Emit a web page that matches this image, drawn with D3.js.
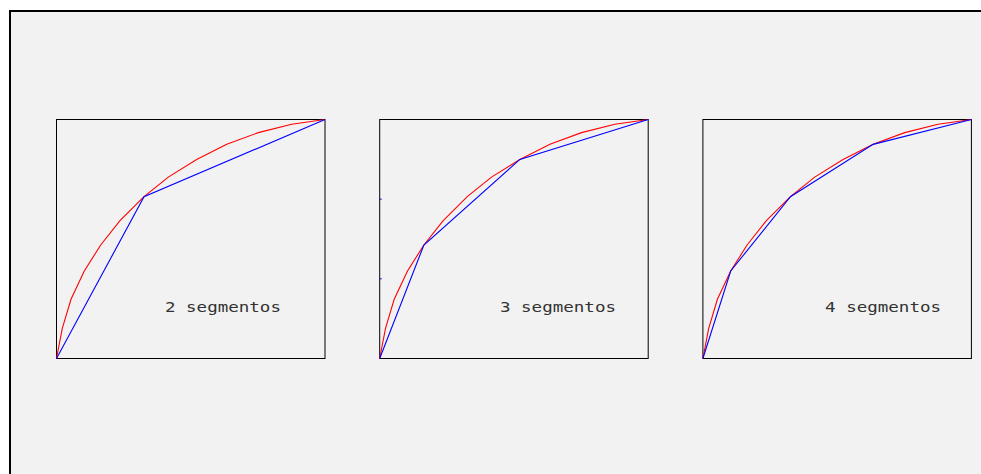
<!DOCTYPE html>
<html>
<head>
<meta charset="utf-8">
<script src="https://cdn.jsdelivr.net/npm/d3@7"></script>
<style>
  html, body { margin: 0; padding: 0; background: #ffffff; }
  svg { display: block; }
</style>
</head>
<body>
<svg id="chart" width="981" height="474"></svg>
<script>
// Curve sampled at 13 points (x and y normalised to [0, 1])
const curveX = [0, 0.0216, 0.054, 0.1035, 0.1646, 0.2365, 0.326, 0.4164, 0.522, 0.634, 0.7516, 0.876, 1];
const curveY = [0, 0.126, 0.248, 0.366, 0.475, 0.577, 0.677, 0.759, 0.833, 0.896, 0.945, 0.98, 1];

// Number of linear segments approximating the curve in each panel
const segmentCounts = [2, 3, 4];
const panelLabels = ["2 segmentos", "3 segmentos", "4 segmentos"];
// Label anchor in data units for each panel
const labelAnchorX = [0.404, 0.448, 0.455];
const labelAnchorY = [0.195, 0.195, 0.195];
// Left-axis marks drawn only on the middle panel
const panelTicks = [[], [1 / 3, 2 / 3], []];

const svg = d3.select("#chart");

// Outer frame, extending beyond the visible area
svg.append("rect")
  .attr("x", 10).attr("y", 11)
  .attr("width", 1000).attr("height", 500)
  .attr("fill", "#f2f2f2")
  .attr("stroke", "#000").attr("stroke-width", 2);

const panelW = 268.5, panelH = 239;
const panelLeft = 56.5, panelTop = 119.5, panelGap = 323.2;

const x = d3.scaleLinear().domain([0, 1]).range([0, panelW]);
const y = d3.scaleLinear().domain([0, 1]).range([panelH, 0]);

const points = curveX.map((v, i) => [curveX[i], curveY[i]]);
const line = d3.line().x(d => x(d[0])).y(d => y(d[1]));

segmentCounts.forEach((n, p) => {
  const g = svg.append("g")
    .attr("transform", `translate(${panelLeft + p * panelGap},${panelTop})`);

  g.append("rect")
    .attr("x", 0).attr("y", 0)
    .attr("width", panelW).attr("height", panelH)
    .attr("fill", "none")
    .attr("stroke", "#000").attr("stroke-width", 1);

  // Small marks on the left edge
  panelTicks[p].forEach(t => {
    g.append("line")
      .attr("x1", 0).attr("x2", 2)
      .attr("y1", y(t)).attr("y2", y(t))
      .attr("stroke", "#0000ff").attr("stroke-width", 1);
  });

  // Original curve
  g.append("path")
    .attr("d", line(points))
    .attr("fill", "none")
    .attr("stroke", "#ff0000").attr("stroke-width", 1.1);

  // Piecewise-linear approximation using every (12 / n)-th sample
  const step = (points.length - 1) / n;
  const approx = points.filter((d, i) => i % step === 0);
  g.append("path")
    .attr("d", line(approx))
    .attr("fill", "none")
    .attr("stroke", "#0000ff").attr("stroke-width", 1.1);

  g.append("text")
    .attr("x", x(labelAnchorX[p]))
    .attr("y", y(labelAnchorY[p]))
    .attr("font-family", "'DejaVu Sans Mono', monospace")
    .attr("font-size", 14)
    .attr("fill", "#333")
    .attr("textLength", 116)
    .attr("lengthAdjust", "spacingAndGlyphs")
    .text(panelLabels[p]);
});
</script>
</body>
</html>
